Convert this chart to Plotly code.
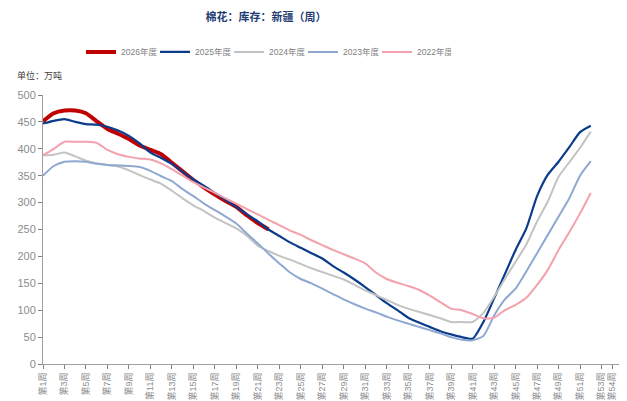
import plotly.graph_objects as go

weeks = list(range(1, 53))

y2026 = [451, 466, 471, 471, 466, 451, 437, 428, 418, 406, 398, 390, 374, 358, 342,
         328, 315, 303, 292, 276, 262, 250]

y2025 = [447, 452, 455, 450, 446, 445, 441, 434, 424, 410, 393, 383, 372, 357, 343,
         331, 318, 305, 292, 278, 265, 250, 238, 226, 216, 206, 196, 182, 170, 157,
         143, 128, 113, 100, 86, 77, 69, 61, 55, 50, 47, 78, 122, 167, 212, 252,
         312, 352, 376, 403, 431, 443]

y2024 = [388, 389, 393, 386, 378, 373, 370, 367, 360, 351, 343, 335, 322, 308, 295,
         284, 272, 262, 252, 238, 220, 210, 201, 194, 186, 178, 171, 164, 157, 147,
         137, 128, 119, 110, 103, 97, 91, 85, 78, 78, 78, 95, 125, 158, 190, 222,
         265, 302, 348, 375, 402, 432]

y2023 = [350, 368, 376, 377, 376, 372, 370, 369, 368, 366, 359, 349, 340, 325, 312,
         298, 286, 274, 261, 242, 224, 205, 187, 170, 158, 150, 140, 130, 120, 111,
         103, 96, 88, 81, 75, 69, 63, 57, 50, 45, 44, 52, 90, 120, 140, 172,
         206, 240, 274, 308, 350, 377]

y2022 = [388, 400, 413, 413, 413, 411, 398, 390, 385, 382, 380, 373, 362, 350, 338,
         328, 318, 308, 298, 288, 278, 268, 258, 248, 240, 230, 221, 212, 204, 196,
         187, 170, 158, 151, 145, 138, 127, 115, 103, 100, 93, 85, 86, 100, 110, 123,
         147, 175, 212, 245, 280, 318]

series = [
    ("2026年度", y2026, "#C00000", 4),
    ("2025年度", y2025, "#0B3C8C", 2.2),
    ("2024年度", y2024, "#C3C3C3", 2),
    ("2023年度", y2023, "#8FA8D2", 2),
    ("2022年度", y2022, "#F3A1AC", 2),
]

tick_vals = list(range(1, 54, 2)) + [54]
tick_text = [f"第{w}周" for w in tick_vals]

FONT = "Liberation Sans, Noto Sans CJK SC, sans-serif"

# the page body has an 8px margin, so the figure is drawn from (8, 8)
W, H = 619, 393

fig = go.Figure()
for name, ys, color, width in series:
    fig.add_trace(go.Scatter(
        x=weeks[:len(ys)], y=ys, name=name, mode="lines",
        line=dict(color=color, width=width, shape="spline", smoothing=0.6),
    ))

fig.update_layout(
    width=W, height=H,
    margin=dict(l=35, r=4, t=87, b=37, autoexpand=False),
    paper_bgcolor="white", plot_bgcolor="white",
    font=dict(family=FONT, color="#7F7F7F", size=10),
    title=dict(text="<b>棉花：库存：新疆（周）</b>", x=258 / W, xanchor="center",
               xref="container", y=1 - 9 / H, yanchor="middle",
               font=dict(family="Noto Sans CJK SC", size=11, color="#1F3D73")),
    showlegend=True,
    legend=dict(orientation="h", x=(266 - 43) / 580, xanchor="center",
                y=1.16, yanchor="middle",
                font=dict(size=8.5, color="#808080", family=FONT),
                itemwidth=30, entrywidth=29, entrywidthmode="pixels",
                bgcolor="rgba(0,0,0,0)"),
    annotations=[dict(text="单位：万吨", xref="paper", yref="paper",
                      x=-0.048, y=1.071, xanchor="left", yanchor="middle",
                      showarrow=False,
                      font=dict(size=9, color="#404040", family="Noto Sans CJK SC"))],
)

fig.update_xaxes(
    range=[1, 55], tickmode="array", tickvals=tick_vals, ticktext=tick_text,
    tickangle=-90, ticks="outside", ticklen=4, tickcolor="#808080",
    showline=True, linecolor="#A0A0A0", linewidth=1, showgrid=False, zeroline=False,
    automargin=False,
    tickfont=dict(size=9, color="#8C8C8C", family=FONT),
)
fig.update_yaxes(
    range=[0, 500], dtick=50, ticks="outside", ticklen=4, tickcolor="#808080",
    showline=True, linecolor="#A0A0A0", linewidth=1, mirror=True,
    showgrid=False, zeroline=False, automargin=False,
    tickfont=dict(size=11, color="#8C8C8C", family=FONT),
)

fig.write_html("out.html")
